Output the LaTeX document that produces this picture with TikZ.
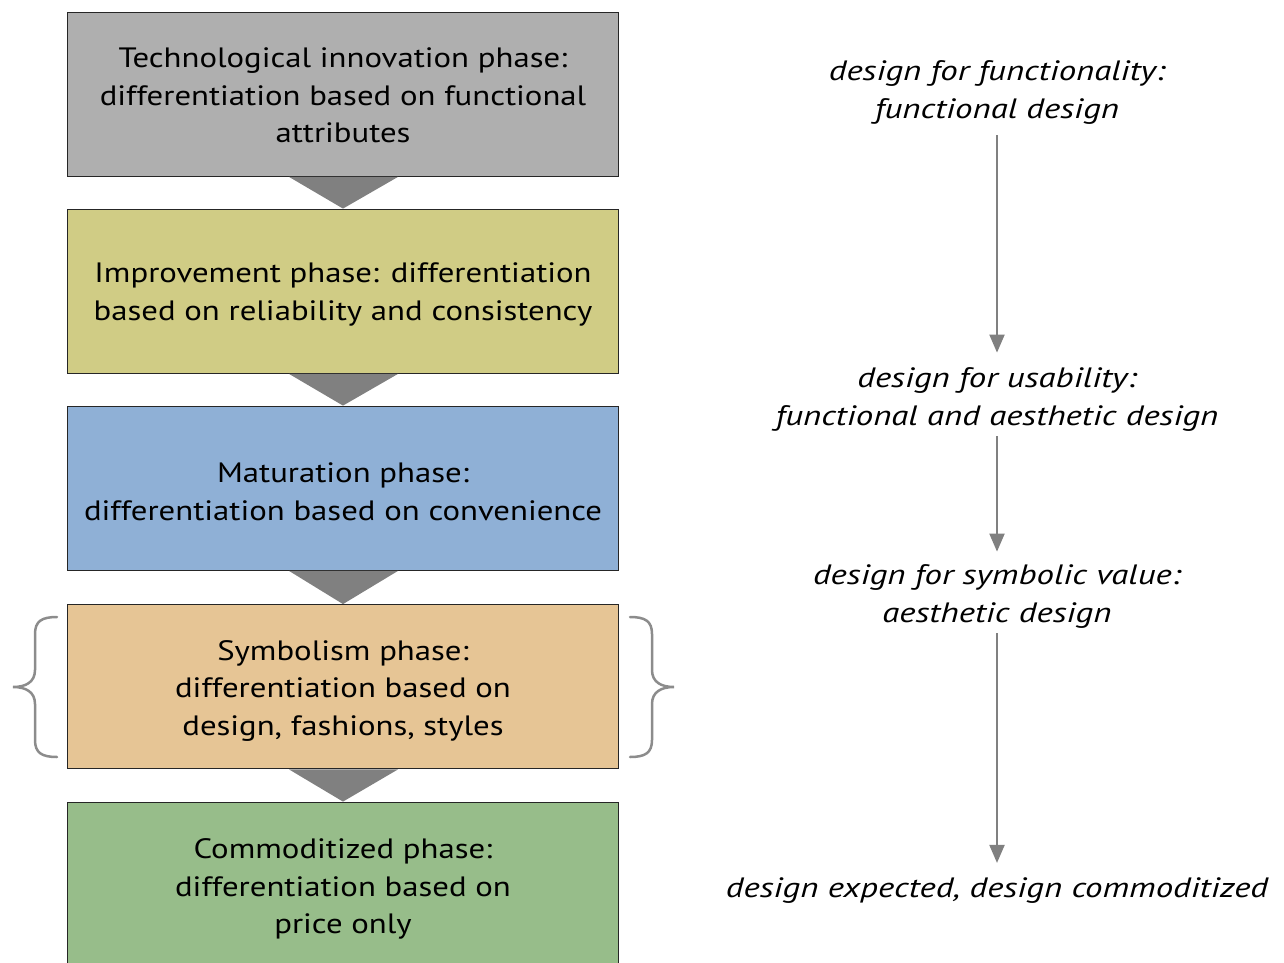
\documentclass[tikz,border=0pt]{standalone}
\usepackage{fontspec}
\setmainfont{PT Sans}[FakeStretch=1.17, ItalicFeatures={FakeStretch=1.245}]
\usetikzlibrary{arrows.meta}
\definecolor{cgray}{HTML}{AFAFAF}
\definecolor{cyel}{HTML}{D0CC85}
\definecolor{cblue}{HTML}{8FB0D6}
\definecolor{ctan}{HTML}{E6C595}
\definecolor{cgreen}{HTML}{97BD8A}
\definecolor{cdark}{HTML}{808080}
\definecolor{cbrace}{HTML}{8C8C8C}
\tikzset{
  phase/.style={draw=black!85, line width=0.8pt, minimum width=551pt, minimum height=164pt, inner sep=0pt},
  ptext/.style={align=center, inner sep=0pt, font=\fontsize{28}{37.5}\selectfont},
  chevron/.style={fill=cdark, draw=none},
  rtext/.style={align=center, font=\fontsize{28}{37.5}\selectfont\itshape, inner sep=0pt},
  rarrow/.style={draw=cdark, line width=2pt, -{Triangle[width=15pt,length=18pt]}},
  brace/.style={draw=cbrace, line width=2.5pt, line cap=round},
}
\begin{document}
\begin{tikzpicture}[x=1pt,y=-1pt]
\useasboundingbox (0,0) rectangle (1284,963);
\clip (0,0) rectangle (1284,963);
% phase boxes
\node[phase, fill=cgray]  (b1) at (343,94)  {};
\node[phase, fill=cyel]   (b2) at (343,291) {};
\node[phase, fill=cblue]  (b3) at (343,488) {};
\node[phase, fill=ctan]   (b4) at (343,686.5) {};
\node[phase, fill=cgreen, minimum height=190pt] (b5) at (343,897) {};
\node[ptext] (t1) at (343,95.5)  {Technological innovation phase:\\differentiation based on functional\\attributes};
\node[ptext] (t2) at (343,294.5) {Improvement phase: differentiation\\based on reliability and consistency};
\node[ptext] (t3) at (343,492)   {Maturation phase:\\differentiation based on convenience};
\node[ptext] (t4) at (343,690.5) {Symbolism phase:\\differentiation based on\\design, fashions, styles};
\node[ptext] (t5) at (343,889)   {Commoditized phase:\\differentiation based on\\price only};
% chevrons
\foreach \a/\b in {b1/b2,b2/b3,b3/b4,b4/b5}{
  \fill[chevron] ([xshift=-54pt,yshift=-0.5pt]\a.south) -- ([xshift=55pt,yshift=-0.5pt]\a.south) -- (\b.north) -- cycle;
}
% braces
\draw[brace] (57,617) .. controls (42,617) and (35,621) .. (35,634) -- (35,670) .. controls (35,682) and (26,687) .. (13,687) .. controls (26,687) and (35,692) .. (35,704) -- (35,740) .. controls (35,753) and (42,757) .. (57,757);
\draw[brace] (630,617) .. controls (645,617) and (652,621) .. (652,634) -- (652,670) .. controls (652,682) and (661,687) .. (674,687) .. controls (661,687) and (652,692) .. (652,704) -- (652,740) .. controls (652,753) and (645,757) .. (630,757);
% right column
\node[rtext] (r1) at (997,92.5)  {design for functionality:\\functional design};
\node[rtext] (r2) at (997,399.5) {design for usability:\\functional and aesthetic design};
\node[rtext] (r3) at (997,596.5) {design for symbolic value:\\aesthetic design};
\node[rtext] (r4) at (997,891)   {design expected, design commoditized};
\draw[rarrow, shorten <=11pt, shorten >=15pt] (r1.south) -- (r2.north);
\draw[rarrow, shorten <=5pt, shorten >=13pt] (r2.south) -- (r3.north);
\draw[rarrow, shorten <=5pt, shorten >=15pt] (r3.south) -- (r4.north);
\end{tikzpicture}
\end{document}
